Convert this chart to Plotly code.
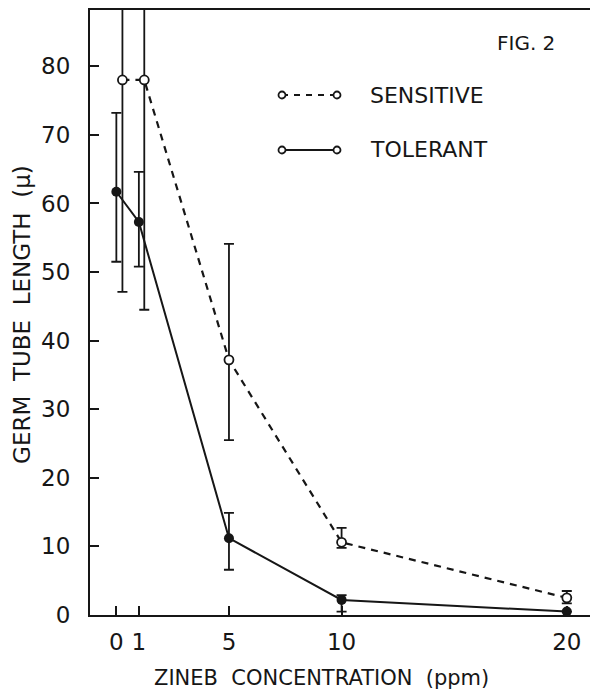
import plotly.graph_objects as go

# ---- data ----
tol_x = [0, 1, 5, 10, 20]
tol_mean = [61.7, 57.3, 11.2, 2.2, 0.5]
tol_upper = [73.2, 64.6, 14.9, 2.9, 0.5]
tol_lower = [51.5, 50.8, 6.6, 0.5, 0.5]

sen_x = [0.27, 1.24, 5, 10, 20]
sen_mean = [78.0, 78.0, 37.2, 10.6, 2.5]
sen_upper = [109.0, 112.0, 54.1, 12.7, 3.5]
sen_lower = [47.1, 44.5, 25.5, 9.8, 1.7]

x_ticks = [0, 1, 5, 10, 20]
x_ticklabels = ["0", "1", "5", "10", "20"]
y_ticks = [0, 10, 20, 30, 40, 50, 60, 70, 80]

INK = "#161616"
FONT = "DejaVu Sans"
NB = "\u00a0"

def errs(mean, up, lo):
    return [u - m for u, m in zip(up, mean)], [m - l for m, l in zip(mean, lo)]

fig = go.Figure()

su, sl = errs(sen_mean, sen_upper, sen_lower)
fig.add_trace(go.Scatter(
    x=sen_x, y=sen_mean, mode="lines+markers",
    line=dict(color=INK, width=2.2, dash="7px,6px"),
    marker=dict(symbol="circle", size=9, color="white", line=dict(color=INK, width=1.8)),
    error_y=dict(type="data", symmetric=False, array=su, arrayminus=sl,
                 color=INK, thickness=1.8, width=5),
    showlegend=False,
))

tu, tl = errs(tol_mean, tol_upper, tol_lower)
fig.add_trace(go.Scatter(
    x=tol_x, y=tol_mean, mode="lines+markers",
    line=dict(color=INK, width=2),
    marker=dict(symbol="circle", size=10, color=INK),
    error_y=dict(type="data", symmetric=False, array=tu, arrayminus=tl,
                 color=INK, thickness=1.8, width=5),
    showlegend=False,
))

fig.update_xaxes(
    range=[-1.17, 21.03], showgrid=False, zeroline=False,
    showline=True, linecolor=INK, linewidth=2, mirror=True,
    ticks="inside", ticklen=9, tickwidth=1.8, tickcolor=INK,
    tickvals=x_ticks, ticktext=x_ticklabels,
    tickfont=dict(family=FONT, size=23, color=INK),
    ticklabelstandoff=5,
)
fig.update_yaxes(
    range=[0, 88.2], showgrid=False, zeroline=False,
    showline=True, linecolor=INK, linewidth=2, mirror=False,
    ticks="inside", ticklen=9, tickwidth=1.8, tickcolor=INK,
    tickvals=y_ticks,
    tickfont=dict(family=FONT, size=23, color=INK),
    ticklabelstandoff=13,
)

# legend drawn by hand (samples + labels)
def leg_row(yp, dash, label):
    fig.add_shape(type="line", xref="paper", yref="paper",
                  x0=0.384, x1=0.494, y0=yp, y1=yp,
                  line=dict(color=INK, width=1.8, dash=dash))
    for xp in (0.384, 0.494):
        fig.add_shape(type="circle", xref="paper", yref="paper",
                      xsizemode="pixel", ysizemode="pixel",
                      xanchor=xp, yanchor=yp, x0=-3.5, x1=3.5, y0=-3.5, y1=3.5,
                      line=dict(color=INK, width=1.8), fillcolor="white")
    fig.add_annotation(xref="paper", yref="paper", x=0.556, y=yp,
                       xanchor="left", yanchor="middle", showarrow=False,
                       text=label, font=dict(family=FONT, size=22, color=INK))

leg_row(0.8595, "6px,6px", "SENSITIVE")
leg_row(0.7686, "solid", "TOLERANT")

fig.add_annotation(xref="paper", yref="paper", x=0.81, y=0.945,
                   xanchor="left", yanchor="middle", showarrow=False,
                   text="FIG. 2", font=dict(family=FONT, size=20, color=INK))

fig.add_annotation(xref="paper", yref="paper", x=-0.136, y=0.496,
                   xanchor="center", yanchor="middle", showarrow=False, textangle=-90,
                   text=f"GERM{NB}{NB}TUBE{NB}{NB}LENGTH{NB}{NB}(\u03bc)",
                   font=dict(family=FONT, size=23, color=INK))
fig.add_annotation(xref="paper", yref="paper", x=0.462, y=-0.104,
                   xanchor="center", yanchor="middle", showarrow=False,
                   text=f"ZINEB{NB}{NB}CONCENTRATION{NB}{NB}(ppm)",
                   font=dict(family=FONT, size=21, color=INK))

fig.update_layout(
    width=590, height=691,
    margin=dict(l=90, r=0, t=10, b=76),
    paper_bgcolor="white", plot_bgcolor="white",
)

fig.write_html(
    "out.html",
    config={"displayModeBar": False},
    post_script="document.body.style.margin='0';document.body.style.overflow='hidden';",
)
